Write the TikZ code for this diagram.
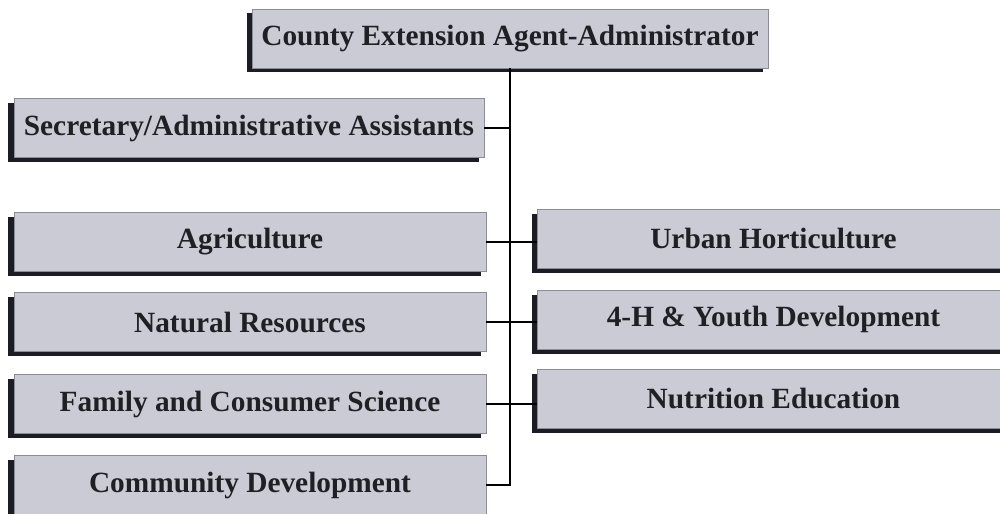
\documentclass[tikz,border=0pt]{standalone}
\usepackage{fontspec}
\setmainfont{Liberation Serif}
\usepackage{tikz}
\usetikzlibrary{positioning, shadows}
\definecolor{colorBox}{RGB}{203, 203, 214}
\definecolor{colorEdge}{RGB}{140, 140, 150}
\definecolor{colorShadow}{RGB}{28, 28, 36}
\definecolor{colorText}{RGB}{32, 32, 36}
\tikzstyle{unit} = [rectangle, minimum width=9.44cm, minimum height=1.18cm, inner sep=0pt, text centered, text=colorText, draw=colorEdge, line width=0.5pt, fill=colorBox, font=\bfseries\fontsize{16.7}{19}\selectfont, drop shadow={shadow xshift=-0.11cm, shadow yshift=-0.09cm, fill=colorShadow, opacity=1}]
\tikzstyle{tie} = [line width=1.1pt, draw=black]

\begin{document}
\begin{tikzpicture}

		\useasboundingbox (0,0) rectangle (20,10.28);

		% head of the office
		\node (admin)[unit, minimum width=10.32cm] at (10.2,9.51) {County Extension Agent-Administrator};

		% office staff
		\node (secretary)[unit, minimum width=9.4cm] at (4.98,7.72) {Secretary/Administrative Assistants};

		% left column of program areas
		\node (agriculture)[unit] at (5.0,5.44) {Agriculture};
		\node (natural)[unit, below=0.41cm of agriculture] {Natural Resources};
		\node (family)[unit, below=0.44cm of natural] {Family and Consumer Science};
		\node (community)[unit, below=0.42cm of family] {Community Development};

		% right column of program areas
		\node (urban)[unit] at (15.47,5.5) {Urban Horticulture};
		\node (youth)[unit, below=0.42cm of urban] {4-H \& Youth Development};
		\node (nutrition)[unit, below=0.38cm of youth] {Nutrition Education};

		% lines
		\draw[tie](admin.south) -- (admin.south |- community.east) -- (community.east);
		\draw[tie](secretary.east) -- (secretary.east -| admin.south);
		\draw[tie](agriculture.east) -- (agriculture.east -| urban.west);
		\draw[tie](natural.east) -- (natural.east -| youth.west);
		\draw[tie](family.east) -- (family.east -| nutrition.west);

	\end{tikzpicture}
\end{document}
